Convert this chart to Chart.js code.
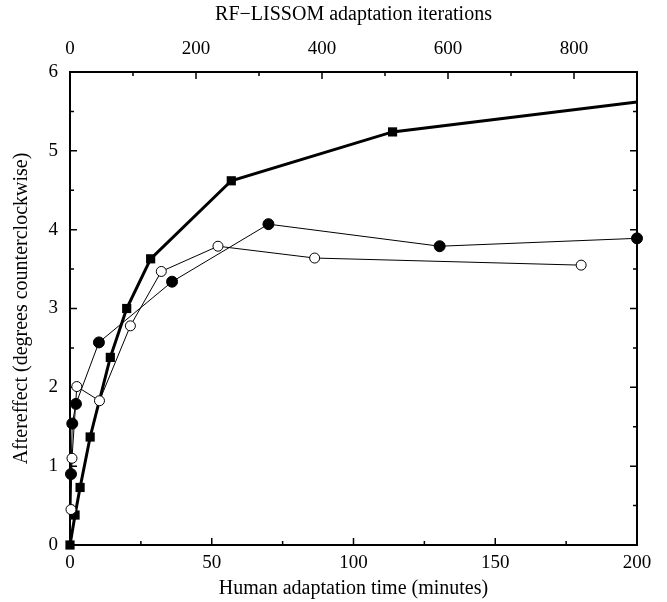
<!DOCTYPE html>
<html>
<head>
<meta charset="utf-8">
<script src="https://cdn.jsdelivr.net/npm/chart.js@4/dist/chart.umd.min.js"></script>
<style>
  html, body { margin: 0; padding: 0; background: #fff; }
  #wrap { width: 667px; height: 602px; }
</style>
</head>
<body>
<div id="wrap"><canvas id="mainChart" width="667" height="602"></canvas></div>
<script>
// model: RF-LISSOM, x in adaptation iterations (top axis)
const modelIterations = [0, 8, 16, 32, 64, 90, 128, 256, 512, 900];
const modelAftereffect = [0, 0.38, 0.73, 1.37, 2.38, 3.0, 3.63, 4.62, 5.24, 5.62];

// human subjects, x in minutes (bottom axis)
const subjectAMinutes = [0.35, 0.8, 2.1, 10.2, 36, 70, 130.4, 200];
const subjectAValues = [0.90, 1.54, 1.79, 2.57, 3.34, 4.07, 3.79, 3.89];

const subjectBMinutes = [0.35, 0.7, 2.4, 10.4, 21.3, 32.2, 52.2, 86.3, 180.3];
const subjectBValues = [0.45, 1.10, 2.01, 1.83, 2.78, 3.47, 3.79, 3.64, 3.55];

const serif = 'Liberation Serif';

const toPoints = (xs, ys) => xs.map((x, i) => ({ x: x, y: ys[i] }));

// frame + inward tick marks on all four sides
const frameTicks = {
    id: 'frameTicks',
    beforeDatasetsDraw(chart) {
        const { ctx, chartArea: a, scales } = chart;
        const major = 7, minor = 4;
        ctx.save();
        ctx.strokeStyle = '#000';
        ctx.lineWidth = 2;
        ctx.strokeRect(a.left, a.top, a.right - a.left, a.bottom - a.top);
        ctx.lineWidth = 1.5;
        ctx.beginPath();
        for (let v = 0; v <= 200; v += 25) {
            const px = scales.x.getPixelForValue(v);
            const len = v % 50 === 0 ? major : minor;
            ctx.moveTo(px, a.bottom); ctx.lineTo(px, a.bottom - len);
        }
        for (let v = 0; v <= 900; v += 100) {
            const px = scales.x2.getPixelForValue(v);
            const len = v % 200 === 0 ? major : minor;
            ctx.moveTo(px, a.top); ctx.lineTo(px, a.top + len);
        }
        for (let v = 0; v <= 6; v += 0.5) {
            const py = scales.y.getPixelForValue(v);
            const len = v % 1 === 0 ? major : minor;
            ctx.moveTo(a.left, py); ctx.lineTo(a.left + len, py);
            ctx.moveTo(a.right, py); ctx.lineTo(a.right - len, py);
        }
        ctx.stroke();
        ctx.restore();
    }
};

new Chart(document.getElementById('mainChart'), {
    type: 'scatter',
    data: {
        datasets: [
            {
                label: 'Subject B',
                data: toPoints(subjectBMinutes, subjectBValues),
                xAxisID: 'x',
                showLine: true,
                borderColor: '#000',
                borderWidth: 1,
                pointStyle: 'circle',
                pointRadius: 5,
                pointBackgroundColor: '#fff',
                pointBorderColor: '#000',
                pointBorderWidth: 1,
                clip: false
            },
            {
                label: 'Subject A',
                data: toPoints(subjectAMinutes, subjectAValues),
                xAxisID: 'x',
                showLine: true,
                borderColor: '#000',
                borderWidth: 1,
                pointStyle: 'circle',
                pointRadius: 5.5,
                pointBackgroundColor: '#000',
                pointBorderColor: '#000',
                pointBorderWidth: 1,
                clip: false
            },
            {
                label: 'RF-LISSOM',
                data: toPoints(modelIterations, modelAftereffect),
                xAxisID: 'x2',
                showLine: true,
                borderColor: '#000',
                borderWidth: 3,
                pointStyle: 'rect',
                pointRadius: ctx => ctx.dataIndex === modelIterations.length - 1 ? 0 : 6.5,
                pointBackgroundColor: '#000',
                pointBorderColor: '#000',
                pointBorderWidth: 0,
                clip: false
            }
        ]
    },
    options: {
        responsive: false,
        animation: false,
        layout: { padding: { left: 0, right: 30, top: 0, bottom: 0 } },
        plugins: {
            legend: { display: false },
            tooltip: { enabled: false }
        },
        scales: {
            x: {
                type: 'linear',
                position: 'bottom',
                min: 0,
                max: 200,
                grid: { display: false, drawTicks: false },
                border: { display: false },
                ticks: {
                    stepSize: 50,
                    color: '#000',
                    padding: 7,
                    maxRotation: 0,
                    font: { family: serif, size: 19 }
                },
                title: {
                    display: true,
                    text: 'Human adaptation time (minutes)',
                    color: '#000',
                    font: { family: serif, size: 20 },
                    padding: { top: 0, bottom: 1 }
                },
                afterFit: s => { s.height = 57; }
            },
            x2: {
                type: 'linear',
                position: 'top',
                min: 0,
                max: 900,
                grid: { display: false, drawTicks: false },
                border: { display: false },
                afterBuildTicks: s => { s.ticks = s.ticks.filter(t => t.value % 200 === 0); },
                ticks: {
                    stepSize: 200,
                    color: '#000',
                    padding: 12,
                    maxRotation: 0,
                    font: { family: serif, size: 19 }
                },
                title: {
                    display: true,
                    text: 'RF\u2212LISSOM adaptation iterations',
                    color: '#000',
                    font: { family: serif, size: 20 },
                    padding: { top: 3, bottom: 0 }
                },
                afterFit: s => { s.height = 72; }
            },
            y: {
                type: 'linear',
                position: 'left',
                min: 0,
                max: 6,
                grid: { display: false, drawTicks: false },
                border: { display: false },
                ticks: {
                    stepSize: 1,
                    color: '#000',
                    padding: 12,
                    font: { family: serif, size: 19 }
                },
                title: {
                    display: true,
                    text: 'Aftereffect (degrees counterclockwise)',
                    color: '#000',
                    font: { family: serif, size: 20 },
                    padding: { top: 10, bottom: 0 }
                },
                afterFit: s => { s.width = 70; }
            }
        }
    },
    plugins: [frameTicks]
});
</script>
</body>
</html>
